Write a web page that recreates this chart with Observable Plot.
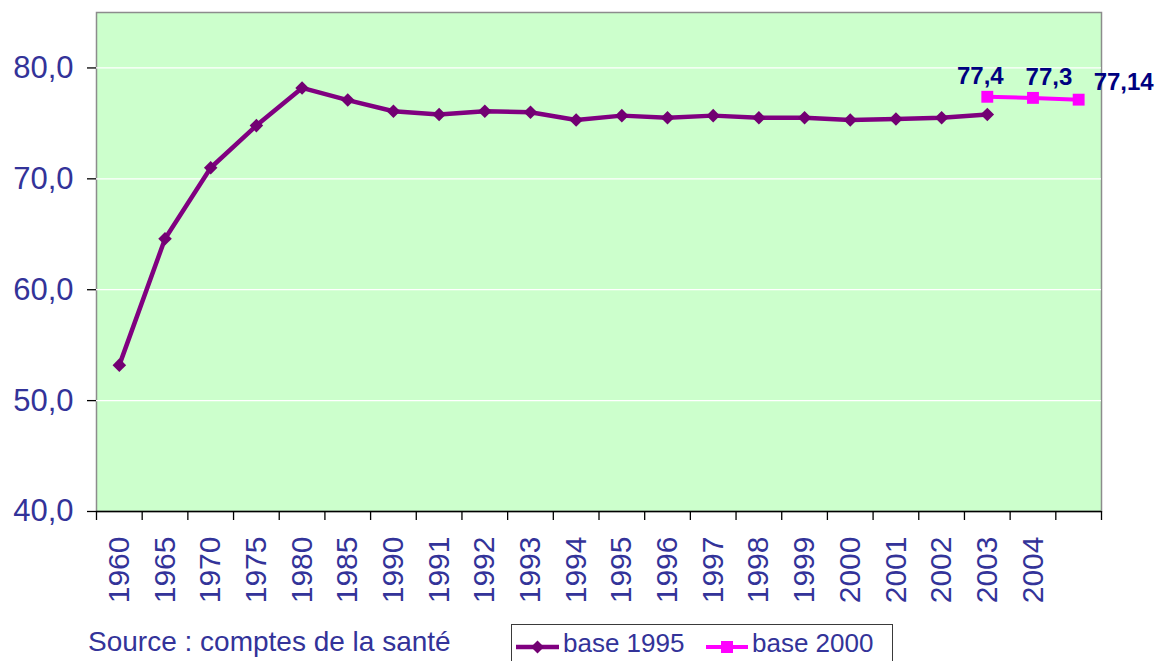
<!DOCTYPE html>
<html><head><meta charset="utf-8">
<script src="https://cdn.jsdelivr.net/npm/d3@7"></script>
<script src="https://cdn.jsdelivr.net/npm/@observablehq/plot@0.6"></script>
<style>
html,body{margin:0;padding:0;background:#fff;overflow:hidden;}
#wrap{position:relative;width:1159px;height:661px;font-family:"Liberation Sans",Arial,sans-serif;color:#333399;}
#chart{position:absolute;left:0;top:0;}
#source{position:absolute;left:88px;top:626px;font-size:28px;line-height:32px;white-space:nowrap;}
#legend{position:absolute;left:511px;top:624px;width:382px;height:46px;border:1px solid #3a3a3a;box-sizing:border-box;background:#fff;}
#legend span{position:absolute;top:3px;font-size:26px;line-height:30px;white-space:nowrap;}
#legend svg{position:absolute;left:0;top:0;}
</style>
</head>
<body>
<div id="wrap">
  <div id="chart"></div>
  <div id="source"></div>
  <div id="legend"></div>
</div>
<script>
// ---- data ----
const categories = ["1960","1965","1970","1975","1980","1985","1990","1991","1992","1993","1994","1995","1996","1997","1998","1999","2000","2001","2002","2003","2004",""];
const years1995 = ["1960","1965","1970","1975","1980","1985","1990","1991","1992","1993","1994","1995","1996","1997","1998","1999","2000","2001","2002","2003"];
const base1995 = [53.2, 64.6, 71.0, 74.8, 78.2, 77.1, 76.1, 75.8, 76.1, 76.0, 75.3, 75.7, 75.5, 75.7, 75.5, 75.5, 75.3, 75.4, 75.5, 75.8];
const years2000 = ["2003","2004",""];
const base2000 = [77.4, 77.3, 77.14];
const yTicks = [40, 50, 60, 70, 80];
const gridTicks = [50, 60, 70, 80];
const seriesNames = ["base 1995", "base 2000"];
const sourceText = "Source : comptes de la santé";

// ---- layout ----
const W = 1159, H = 615, ML = 96, MR = 58, MT = 12, MB = 104;
const step = (W - ML - MR) / categories.length;
const frFmt = d => String(d).replace(".", ",");
const yFmt = d => d.toFixed(1).replace(".", ",");

const rows1995 = years1995.map((c, i) => ({cat: c, v: base1995[i]}));
const rows2000 = years2000.map((c, i) => ({cat: c, v: base2000[i], label: frFmt(base2000[i])}));

const labelOffsets = [[-7, -13], [16, -13], [45, -10]];

const chart = Plot.plot({
  width: W, height: H,
  marginLeft: ML, marginRight: MR, marginTop: MT, marginBottom: MB,
  style: {fontFamily: '"Liberation Sans", Arial, sans-serif', background: "transparent", overflow: "visible"},
  x: {type: "point", domain: categories, padding: 0.5, align: 0.5, round: false, axis: null, label: null},
  y: {domain: [40, 85], axis: null, label: null},
  marks: [
    Plot.frame({fill: "#CCFFCC", stroke: "#8c8c8c", strokeWidth: 1.5}),
    Plot.gridY(gridTicks, {stroke: "#ffffff", strokeOpacity: 1, strokeWidth: 1.3}),
    Plot.ruleY([40], {stroke: "#000", strokeWidth: 1.3}),
    Plot.axisY(yTicks, {tickSize: 9, tickFormat: () => "", line: true, stroke: "#000", strokeWidth: 1.3}),
    Plot.axisY(yTicks, {tickSize: 0, tickPadding: 23, tickFormat: yFmt, fill: "#333399", fontSize: 31}),
    Plot.axisX(categories, {tickSize: 9, tickFormat: () => "", dx: -step / 2, stroke: "#000", strokeWidth: 1.3}),
    Plot.axisX([categories[categories.length - 1]], {tickSize: 9, tickFormat: () => "", dx: step / 2, stroke: "#000", strokeWidth: 1.3}),
    Plot.axisX(categories, {tickSize: 0, tickPadding: 25, tickRotate: -90, tickFormat: d => d, fill: "#333399", fontSize: 30}),
    Plot.line(rows1995, {x: "cat", y: "v", stroke: "#800080", strokeWidth: 4.5}),
    Plot.dot(rows1995, {x: "cat", y: "v", symbol: "diamond2", r: 6.1, fill: "#720072", stroke: "none"}),
    Plot.line(rows2000, {x: "cat", y: "v", stroke: "#FF00FF", strokeWidth: 4}),
    Plot.dot(rows2000, {x: "cat", y: "v", symbol: "square", r: 6.7, fill: "#FF00FF", stroke: "none"}),
    ...rows2000.map((r, i) => Plot.text([r], {
      x: "cat", y: "v", text: "label",
      dx: labelOffsets[i][0], dy: labelOffsets[i][1],
      lineAnchor: "bottom", fontSize: 24, fontWeight: "bold", fill: "#000080"
    }))
  ]
});
document.getElementById("chart").appendChild(chart);

// ---- caption & legend ----
document.getElementById("source").textContent = sourceText;

const legend = document.getElementById("legend");
const ns = "http://www.w3.org/2000/svg";
const lsvg = document.createElementNS(ns, "svg");
lsvg.setAttribute("width", 382);
lsvg.setAttribute("height", 46);
function add(tag, attrs) {
  const el = document.createElementNS(ns, tag);
  for (const k in attrs) el.setAttribute(k, attrs[k]);
  lsvg.appendChild(el);
}
add("line", {x1: 4, x2: 47, y1: 22, y2: 22, stroke: "#800080", "stroke-width": 4.5});
add("path", {d: "M25.5,15.5 L32,22 L25.5,28.5 L19,22 Z", fill: "#720072"});
add("line", {x1: 194, x2: 236, y1: 22, y2: 22, stroke: "#FF00FF", "stroke-width": 4});
add("rect", {x: 209, y: 16, width: 12, height: 12, fill: "#FF00FF"});
legend.appendChild(lsvg);

const s1 = document.createElement("span");
s1.style.left = "51px"; s1.textContent = seriesNames[0];
const s2 = document.createElement("span");
s2.style.left = "240px"; s2.textContent = seriesNames[1];
legend.appendChild(s1); legend.appendChild(s2);
</script>
</body></html>
